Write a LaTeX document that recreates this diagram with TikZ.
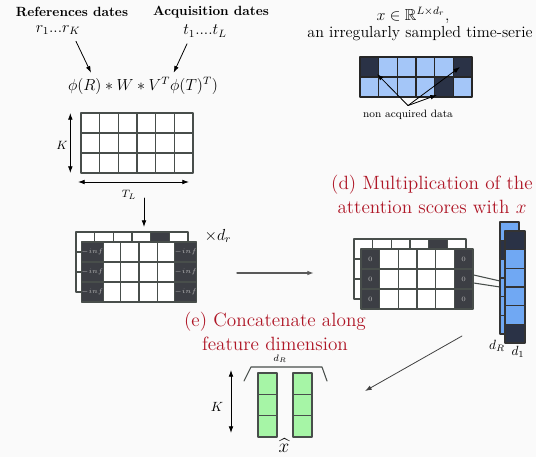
\documentclass[tikz,border=0pt]{standalone}
\usepackage{amsmath,amssymb}
\usetikzlibrary{arrows.meta,positioning}

\definecolor{bgcol}{RGB}{250,250,250}
\definecolor{gridline}{RGB}{72,78,75}
\definecolor{maskcell}{RGB}{60,62,68}
\definecolor{tsblue}{RGB}{164,198,248}
\definecolor{colblue}{RGB}{112,168,243}
\definecolor{tsdark}{RGB}{42,50,70}
\definecolor{softgreen}{RGB}{166,245,166}
\definecolor{titlered}{RGB}{175,22,38}

\tikzset{
  hdr/.style={font=\bfseries},
  bigmath/.style={font=\large},
  redtitle/.style={font=\Large, text=titlered, align=center},
  cellline/.style={draw=gridline, line width=1pt},
  arr/.style={-{Latex[length=5pt,width=3.5pt]}, line width=0.6pt},
  dblarr/.style={{Latex[length=5pt,width=3.5pt]}-{Latex[length=5pt,width=3.5pt]}, line width=0.6pt},
  maskbox/.style={cellline, fill=maskcell, minimum width=14pt, minimum height=15pt,
    inner sep=0pt, font=\tiny, text=gray!55},
}

% size of one cell (px units)
\def\cw{18.67}
\def\ch{20}

% attention matrix with masked first/last columns, top-left corner at (#1,#2)
% #3 = text of masked cells, #4 = prefix of node names
\newcommand{\attnmat}[4]{%
  \begin{scope}[shift={(#1,#2)}]
    % back layer
    \foreach \i in {0,...,5}
      \foreach \j in {0,1,2}
        \draw[cellline, fill=white] ({\i*\cw-7},{\j*\ch-10}) rectangle ++(\cw,\ch);
    \draw[cellline, fill=maskcell] ({4*\cw-7},-10) rectangle ++(\cw,\ch);
    % front layer
    \foreach \j in {0,1,2} {
      \foreach \i in {1,...,4}
        \draw[cellline, fill=white] ({\i*\cw},{\j*\ch}) rectangle ++(\cw,\ch);
      \node[maskbox] (#4l\j) at ({0.5*\cw},{(\j+0.5)*\ch}) {#3};
      \node[maskbox] (#4r\j) at ({5.5*\cw},{(\j+0.5)*\ch}) {#3};
    }
  \end{scope}}

\begin{document}
\begin{tikzpicture}[x=0.75pt, y=-0.75pt, line cap=round, line join=round]
\fill[bgcol] (0,0) rectangle (536,457);
\useasboundingbox (0,0) rectangle (536,457);

%-----------------------
% dates and scores
%-----------------------
\node[hdr] (refs) at (72,12) {References dates};
\node[bigmath] (rdates) at (58,30) {$r_1...r_K$};
\node[hdr] (acq) at (211,12) {Acquisition dates};
\node[bigmath] (tdates) at (205,31) {$t_1....t_L$};
\node[bigmath] (scores) at (143,86) {$\phi(R)*W*V^T\phi(T)^T)$};

\draw[arr] ([shift={(18,2)}]rdates.south) -- ([xshift=-39]scores.north);
\draw[arr] ([shift={(-18,2)}]tdates.south) -- ([xshift=23]scores.north);

%-----------------------
% K x T_L grid
%-----------------------
\coordinate (ktl) at (81,113);
\foreach \i in {0,...,5}
  \foreach \j in {0,1,2}
    \draw[cellline, fill=white] ([shift={({\i*\cw},{\j*\ch})}]ktl) rectangle ++(\cw,\ch);
\coordinate (ktl-sw) at (81,173);
\coordinate (ktl-se) at (193,173);
\draw[dblarr] ([xshift=-8]ktl) -- ([xshift=-8]ktl-sw);
\node (kleft) at (62,145) {\small $K$};
\draw[dblarr] ([shift={(-3,9)}]ktl-sw) -- ([shift={(-4,9)}]ktl-se);
\node (tl) at (129,195) {\footnotesize $T_L$};
\coordinate (down) at (144,227);
\draw[arr] (144,198) -- (down);

%-----------------------
% masked scores
%-----------------------
\attnmat{83}{242}{$-inf$}{minf}
\node[bigmath] (dr) at (218,236) {$\times d_r$};

\coordinate (goleft) at (237,273);
\coordinate (goright) at (314,273);
\draw[arr, draw=gray!70!black, line width=1pt] (goleft) -- (goright);

%-----------------------
% input time series
%-----------------------
\node[bigmath] (xin) at (413,15) {$x \in \mathbb{R}^{L\times d_r}$,};
\node[bigmath] (irreg) at (420,34) {an irregularly sampled time-serie};
\coordinate (ts) at (360,57);
\foreach \i/\j/\c in {0/0/tsdark,1/0/tsblue,2/0/tsblue,3/0/tsblue,4/0/tsblue,5/0/tsdark,
                      0/1/tsblue,1/1/tsblue,2/1/tsblue,3/1/tsblue,4/1/tsdark,5/1/tsblue}
  \draw[draw=black!85, line width=0.8pt, fill=\c] ([shift={({\i*\cw},{\j*\ch})}]ts) rectangle ++(\cw,\ch);
\node[font=\footnotesize] (nonacq) at (408,115) {non acquired data};
\coordinate (na1) at (377,74);
\coordinate (na2) at (460,67);
\coordinate (na3) at (437,95);
\foreach \t in {na1,na2,na3}
  \draw[arr] (nonacq.north) -- (\t);

%-----------------------
% multiplication with x
%-----------------------
\node[redtitle] (multi) at (432,194) {(d) Multiplication of the\\attention scores with $x$};
\attnmat{361}{249}{$0$}{zero}
\coordinate (tocol1) at (500,281);
\coordinate (tocol2) at (500,287);
\draw[cellline, line width=0.8pt] ([yshift=3]zeror1.east) -- (tocol1);
\draw[cellline, line width=0.8pt] ([yshift=-3]zeror1.east) -- (tocol2);

% two stacked feature columns
\foreach \j/\c in {0/colblue,1/tsdark,2/colblue,3/colblue,4/colblue,5/colblue}
  \draw[draw=black!80, line width=0.8pt, fill=\c] (500,{222+\j*\cw}) rectangle ++(19,\cw);
\foreach \j/\c in {0/tsdark,1/colblue,2/colblue,3/colblue,4/colblue,5/tsdark}
  \draw[draw=black!80, line width=0.8pt, fill=\c] (505,{231+\j*\cw}) rectangle ++(20,\cw);
\node (dR) at (497,346) {$d_R$};
\node (d1) at (518,352) {$d_1$};

%-----------------------
% concatenation
%-----------------------
\node[redtitle] (concat) at (275,331) {(e) Concatenate along\\feature dimension};
\coordinate (fromcol) at (462,336);
\coordinate (tocat) at (365,391);
\draw[arr, draw=black!75] (fromcol) -- (tocat);

\foreach \x in {258,293}
  \foreach \j in {0,1,2}
    \draw[cellline, fill=softgreen] (\x,{373+\j*21.33}) rectangle ++(19,21.33);
\draw[gridline, line width=0.8pt] (244,381) -- (251,367) -- (322,367) -- (327,381);
\node[font=\scriptsize] (dRcat) at (280,359) {$d_R$};
\draw[dblarr] (231,370) -- (231,433);
\node (kcat) at (217,407) {$K$};
\node[font=\Large, inner sep=0pt] (xhat) at (284,446) {$\widehat{x}$};

\end{tikzpicture}
\end{document}
